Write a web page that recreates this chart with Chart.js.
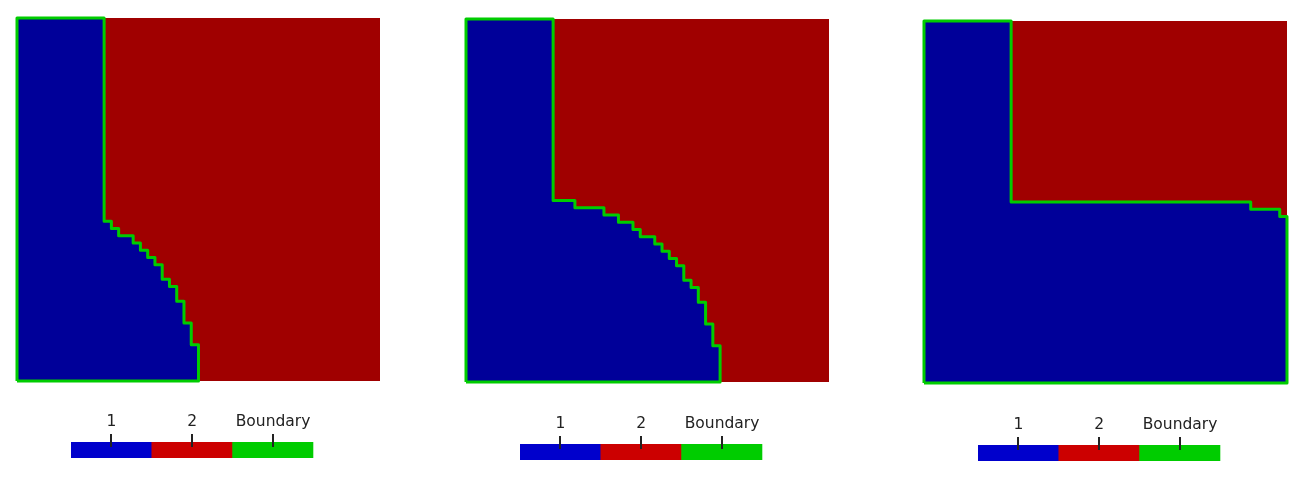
<!DOCTYPE html>
<html>
<head>
<meta charset="utf-8">
<script src="https://cdn.jsdelivr.net/npm/chart.js@4/dist/chart.umd.min.js"></script>
<style>
  html, body { margin: 0; padding: 0; background: #fff; }
  body { width: 1305px; height: 477px; position: relative; overflow: hidden; }
  canvas { position: absolute; }
</style>
</head>
<body>
<canvas id="panel1" width="367" height="367" style="left:15px;top:16px"></canvas>
<canvas id="panel2" width="367" height="367" style="left:464px;top:17px"></canvas>
<canvas id="panel3" width="367" height="366" style="left:922px;top:19px"></canvas>
<canvas id="legend1" width="255" height="50" style="left:67px;top:408px"></canvas>
<canvas id="legend2" width="255" height="50" style="left:516px;top:410px"></canvas>
<canvas id="legend3" width="255" height="50" style="left:974px;top:411px"></canvas>
<script>
// Grid is 50 x 50 cells, y counted from the bottom
const DOMAIN_SIZE = 50;

// Interface between region 1 (blue, lower left) and region 2 (red), left to right
const FRONT_1 = [
  [0, 50], [12, 50], [12, 22], [13, 22], [13, 21], [14, 21], [14, 20], [16, 20],
  [16, 19], [17, 19], [17, 18], [18, 18], [18, 17], [19, 17], [19, 16], [20, 16],
  [20, 14], [21, 14], [21, 13], [22, 13], [22, 11], [23, 11], [23, 8], [24, 8],
  [24, 5], [25, 5], [25, 0],
];
const FRONT_2 = [
  [0, 50], [12, 50], [12, 25], [15, 25], [15, 24], [19, 24], [19, 23], [21, 23],
  [21, 22], [23, 22], [23, 21], [24, 21], [24, 20], [26, 20], [26, 19], [27, 19],
  [27, 18], [28, 18], [28, 17], [29, 17], [29, 16], [30, 16], [30, 14], [31, 14],
  [31, 13], [32, 13], [32, 11], [33, 11], [33, 8], [34, 8], [34, 5], [35, 5], [35, 0],
];
const FRONT_3 = [
  [0, 50], [12, 50], [12, 25], [45, 25], [45, 24], [49, 24], [49, 23], [50, 23],
];

const LEGEND_LABELS = ['1', '2', 'Boundary'];
const LEGEND_VALUES = [1, 1, 1];

const COLORS = {
  region1: '#000099',
  region2: '#a00000',
  boundary: '#00cc00',
  legend: ['#0000cc', '#cc0000', '#00cc00'],
  text: '#222222',
};

const FONT = { family: '"DejaVu Sans", Verdana, sans-serif', size: 15.5 };

const toPoints = (pairs) => pairs.map(([x, y]) => ({ x, y }));

/**
 * Closed outline of region 1: bottom-left corner, the front, then back along the bottom
 */
function boundaryOf(front) {
  const last = front[front.length - 1];
  return [[0, 0], ...front, [last[0], 0], [0, 0]];
}

/**
 * Draw one material panel
 */
function drawPanel(id, front) {
  const hiddenAxis = { type: 'linear', min: 0, max: DOMAIN_SIZE, display: false };

  new Chart(document.getElementById(id), {
    type: 'scatter',
    data: {
      datasets: [
        {
          label: 'Boundary',
          data: toPoints(boundaryOf(front)),
          showLine: true,
          borderColor: COLORS.boundary,
          borderWidth: 3,
          borderJoinStyle: 'round',
          pointRadius: 0,
          fill: false,
          clip: false,
          order: 0,
        },
        {
          label: '1',
          data: toPoints(front),
          showLine: true,
          borderWidth: 0,
          borderColor: 'transparent',
          backgroundColor: COLORS.region1,
          pointRadius: 0,
          fill: 'origin',
          order: 1,
        },
        {
          label: '2',
          data: toPoints([[0, DOMAIN_SIZE], [DOMAIN_SIZE, DOMAIN_SIZE]]),
          showLine: true,
          borderWidth: 0,
          borderColor: 'transparent',
          backgroundColor: COLORS.region2,
          pointRadius: 0,
          fill: 'origin',
          order: 2,
        },
      ],
    },
    options: {
      responsive: false,
      animation: false,
      layout: { padding: 2 },
      plugins: { legend: { display: false }, tooltip: { enabled: false } },
      scales: { x: hiddenAxis, y: hiddenAxis },
    },
  });
}

// Short tick marks that cross into the top of the colour bar
const legendTicks = {
  id: 'legendTicks',
  afterDatasetsDraw(chart) {
    const { ctx, chartArea, scales } = chart;
    ctx.save();
    ctx.strokeStyle = '#222';
    ctx.lineWidth = 2;
    scales.x.ticks.forEach((t, i) => {
      const x = Math.round(scales.x.getPixelForTick(i));
      ctx.beginPath();
      ctx.moveTo(x, chartArea.top - 8);
      ctx.lineTo(x, chartArea.top + 5);
      ctx.stroke();
    });
    ctx.restore();
  },
};

/**
 * Draw the categorical colour bar under a panel
 */
function drawLegend(id) {
  new Chart(document.getElementById(id), {
    type: 'bar',
    data: {
      labels: LEGEND_LABELS,
      datasets: [{
        data: LEGEND_VALUES,
        backgroundColor: COLORS.legend,
        borderWidth: 0,
        barPercentage: 1,
        categoryPercentage: 1,
      }],
    },
    options: {
      responsive: false,
      animation: false,
      layout: { padding: { left: 4, right: 4, top: 0, bottom: 0 } },
      plugins: { legend: { display: false }, tooltip: { enabled: false } },
      scales: {
        x: {
          position: 'top',
          grid: { display: false, drawTicks: false },
          border: { display: false },
          ticks: {
            color: COLORS.text,
            font: FONT,
            padding: 11,
            maxRotation: 0,
            autoSkip: false,
          },
          // the layout would cap the axis at half the canvas height
          afterFit: (axis) => { axis.height = 34; },
        },
        y: { min: 0, max: 1, display: false },
      },
    },
    plugins: [legendTicks],
  });
}

drawPanel('panel1', FRONT_1);
drawPanel('panel2', FRONT_2);
drawPanel('panel3', FRONT_3);
drawLegend('legend1');
drawLegend('legend2');
drawLegend('legend3');
</script>
</body>
</html>
